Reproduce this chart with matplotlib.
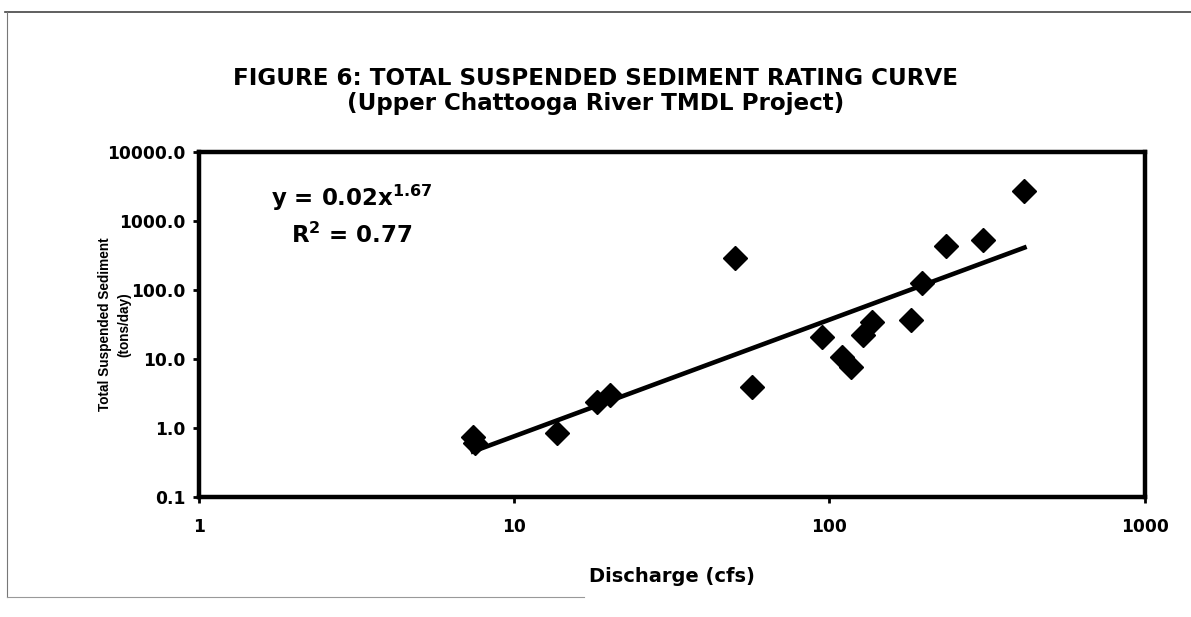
import numpy as np
import matplotlib
matplotlib.use("Agg")
import matplotlib.pyplot as plt
from matplotlib import font_manager
from matplotlib.ticker import FixedLocator, NullLocator

plt.rcParams['font.family'] = ['DejaVu Sans']
plt.rcParams['font.weight'] = 'bold'
plt.rcParams['mathtext.fontset'] = 'dejavusans'

# discharge (cfs) and total suspended sediment (tons/day)
discharge = [7.4, 7.5, 13.7, 18.3, 20.2, 50.3, 57, 95, 110, 117, 128, 137, 181, 197, 235, 308, 416]
sediment = [0.74, 0.61, 0.85, 2.4, 3.0, 291, 3.9, 21, 10.7, 7.7, 22, 34, 37, 126, 435, 531, 2720]

x_ticks = [1, 10, 100, 1000]
y_ticks = [0.1, 1, 10, 100, 1000, 10000]

title = "FIGURE 6: TOTAL SUSPENDED SEDIMENT RATING CURVE"
subtitle = "(Upper Chattooga River TMDL Project)"

# narrow face for the rotated label if we have it
installed = {f.name for f in font_manager.fontManager.ttflist}
if 'Liberation Sans Narrow' in installed:
    ylab_family, ylab_size = 'Liberation Sans Narrow', 11.5
else:
    ylab_family, ylab_size = 'Liberation Sans', 9.8

fig = plt.figure(figsize=(11.91, 6.17), dpi=100)
ax = fig.add_axes([0.167, 0.194, 0.794, 0.560])

ax.plot(discharge, sediment, linestyle='none', marker='D', markersize=12,
        color='black', zorder=3)

# power trendline fitted in log space
xs = np.array(discharge)
ys = np.array(sediment)
b, loga = np.polyfit(np.log10(xs), np.log10(ys), 1)
xfit = np.array([xs.min(), xs.max()])
ax.plot(xfit, 10 ** loga * xfit ** b, color='black', lw=3.3, zorder=2)

ax.set_xscale('log')
ax.set_yscale('log')
ax.set_xlim(1, 1000)
ax.set_ylim(0.1, 10000)
ax.xaxis.set_major_locator(FixedLocator(x_ticks))
ax.yaxis.set_major_locator(FixedLocator(y_ticks))
ax.xaxis.set_minor_locator(NullLocator())
ax.yaxis.set_minor_locator(NullLocator())
ax.set_xticklabels([str(v) for v in x_ticks], fontsize=12.3, fontweight='bold')
ax.set_yticklabels(["%.1f" % v for v in y_ticks], fontsize=12.3, fontweight='bold')
ax.tick_params(length=4, width=2, direction='out')
ax.tick_params(axis='x', pad=11)
ax.tick_params(axis='y', pad=6)
for s in ax.spines.values():
    s.set_linewidth(3.2)

ax.set_xlabel("Discharge (cfs)", fontsize=14, fontweight='bold', labelpad=22)
ax.set_ylabel("Total Suspended Sediment\n(tons/day)", family=ylab_family,
              fontsize=ylab_size, fontweight='bold', linespacing=1.5, va='center')
ax.yaxis.set_label_coords(-0.089, 0.5)

ax.text(0.162, 0.843, r"y = 0.02x$^{\mathbf{1.67}}$", transform=ax.transAxes,
        ha='center', va='baseline', fontsize=16.5, fontweight='bold')
ax.text(0.162, 0.736, r"R$^{\mathbf{2}}$ = 0.77", transform=ax.transAxes,
        ha='center', va='baseline', fontsize=16.5, fontweight='bold')

fig.text(0.5, 0.873, title, ha='center', va='center', fontsize=16.6, fontweight='bold')
fig.text(0.5, 0.833, subtitle, ha='center', va='center', fontsize=16.6, fontweight='bold')

# frame of the scanned page
fig.add_artist(plt.Line2D([0.004, 1.0], [0.980, 0.980], color='#444444', lw=1.2, transform=fig.transFigure))
fig.add_artist(plt.Line2D([0.006, 0.006], [0.980, 0.033], color='#777777', lw=0.8, transform=fig.transFigure))
fig.add_artist(plt.Line2D([0.006, 0.49], [0.033, 0.033], color='#999999', lw=0.8, transform=fig.transFigure))

fig.savefig("out.png", dpi=100)
